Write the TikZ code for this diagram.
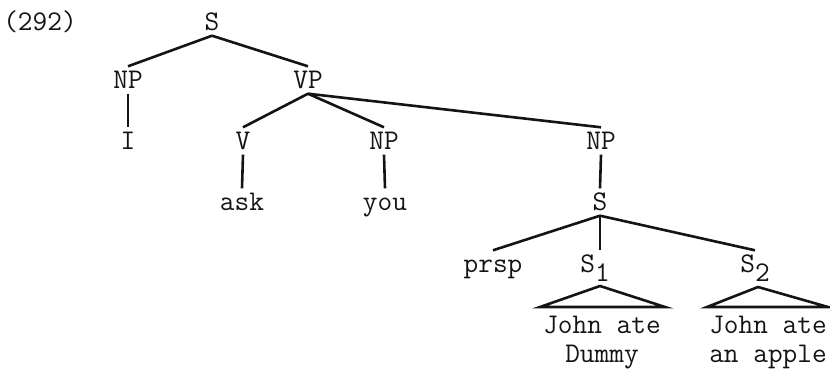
\documentclass[tikz,border=0pt]{standalone}
\usepackage{tikz}
\definecolor{ink}{RGB}{20,20,20}
\tikzset{
  cat/.style={font=\fontsize{28.5}{25}\selectfont\ttfamily,text=ink,
              inner sep=5pt,text height=17pt,text depth=0pt},
  leaf/.style={font=\fontsize{28.5}{29}\selectfont\ttfamily,text=ink,
               inner sep=0pt,align=center,anchor=north},
  branch/.style={draw=ink,line width=2.6pt},
}

\begin{document}
\begin{tikzpicture}[x=1pt,y=-1pt]
  \useasboundingbox (0,0) rectangle (830,369);
  % labels of the tree
  \foreach \n/\x/\y/\t in {
    num/40/22/(292), s/212/22/S, np1/128/80/NP, vp/308/80/VP,
    i/128/141/I, v/243/141/V, np2/384/141/NP, np3/601/141/NP,
    ask/242/202/ask, you/385/202/you, s3/600/202/S, prsp/493/264/prsp}{
    \node[cat] (\n) at (\x,\y) {\t};
  }
  \node[cat] (s1) at (595,264) {S\raisebox{-0.3em}{1}};
  \node[cat] (s2) at (755,264) {S\raisebox{-0.3em}{2}};
  \node[leaf] (j1) at (602,316) {John ate\\Dummy};
  \node[leaf] (j2) at (768,316) {John ate\\an apple};
  % branches
  \foreach \a/\b in {s/np1, s/vp, np1/i, vp/v, vp/np2, vp/np3,
                     v/ask, np2/you, np3/s3, s3/prsp, s3/s2}{
    \draw[branch] (\a.south) -- (\b.north);
  }
  \draw[branch] (s3.south) -- (s3.south |- s1.north);
  % triangles
  \coordinate (t1) at (600,286);
  \coordinate (t2) at (758,287);
  \draw[branch] (t1) -- (540,307) -- (665,307) -- cycle;
  \draw[branch] (t2) -- (707,307) -- (828,307) -- cycle;
\end{tikzpicture}
\end{document}
